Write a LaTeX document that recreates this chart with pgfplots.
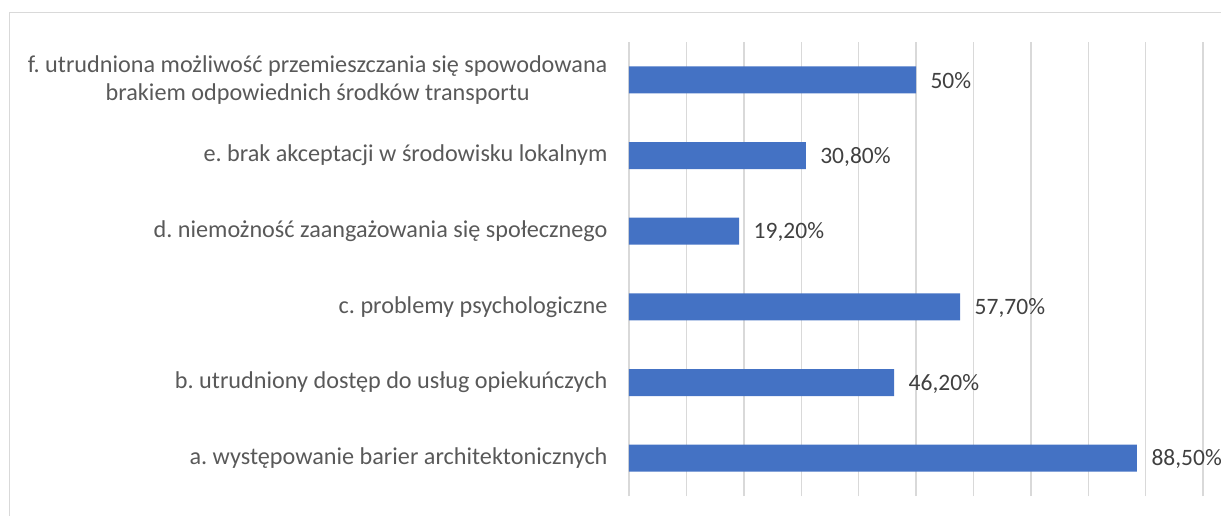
\documentclass[border=0pt]{standalone}
\usepackage{pgfplots}
\pgfplotsset{compat=1.18}
\usepackage{fontspec}
\setmainfont{Carlito}
\frenchspacing
\definecolor{barblue}{HTML}{4472C4}
\definecolor{gridgray}{HTML}{D9D9D9}
\definecolor{ticktext}{HTML}{595959}
\definecolor{valtext}{HTML}{404040}
\begin{document}
\begin{tikzpicture}[x=1pt,y=1pt]
\path[use as bounding box] (0,0) rectangle (1221,515);
\draw[gridgray, line width=1.3pt] (9.5,-5) -- (9.5,502.5) -- (1230,502.5);
\begin{axis}[
  at={(629pt,19pt)}, anchor=south west,
  scale only axis, width=574pt, height=454pt,
  xmin=0, xmax=100, ymin=-0.5, ymax=5.5,
  xbar, bar width=27pt,
  axis line style={draw=none},
  xtick={0,10,...,100}, xticklabels={},
  xmajorgrids, major grid style={gridgray, line width=1.4pt},
  ytick={0,1,2,3,4,5},
  yticklabels={a. występowanie barier architektonicznych,
    b. utrudniony dostęp do usług opiekuńczych,
    c. problemy psychologiczne,
    d. niemożność zaangażowania się społecznego,
    e. brak akceptacji w środowisku lokalnym,
    {f. utrudniona możliwość przemieszczania się spowodowana\\brakiem odpowiednich środków transportu}},
  yticklabel style={font=\fontsize{24.2}{28.5}\selectfont, text=ticktext, align=center, xshift=-18pt},
  major tick length=0pt,
  nodes near coords,
  point meta=explicit symbolic,
  nodes near coords style={font=\fontsize{23.5}{28}\selectfont, text=valtext, anchor=west, xshift=11pt, yshift=-1pt},
  clip=false,
]
\addplot[fill=barblue, draw=none] coordinates {
  (88.5,0) [88,50\%]
  (46.2,1) [46,20\%]
  (57.7,2) [57,70\%]
  (19.2,3) [19,20\%]
  (30.8,4) [30,80\%]
  (50,5) [50\%]
};
\end{axis}
\end{tikzpicture}
\end{document}
